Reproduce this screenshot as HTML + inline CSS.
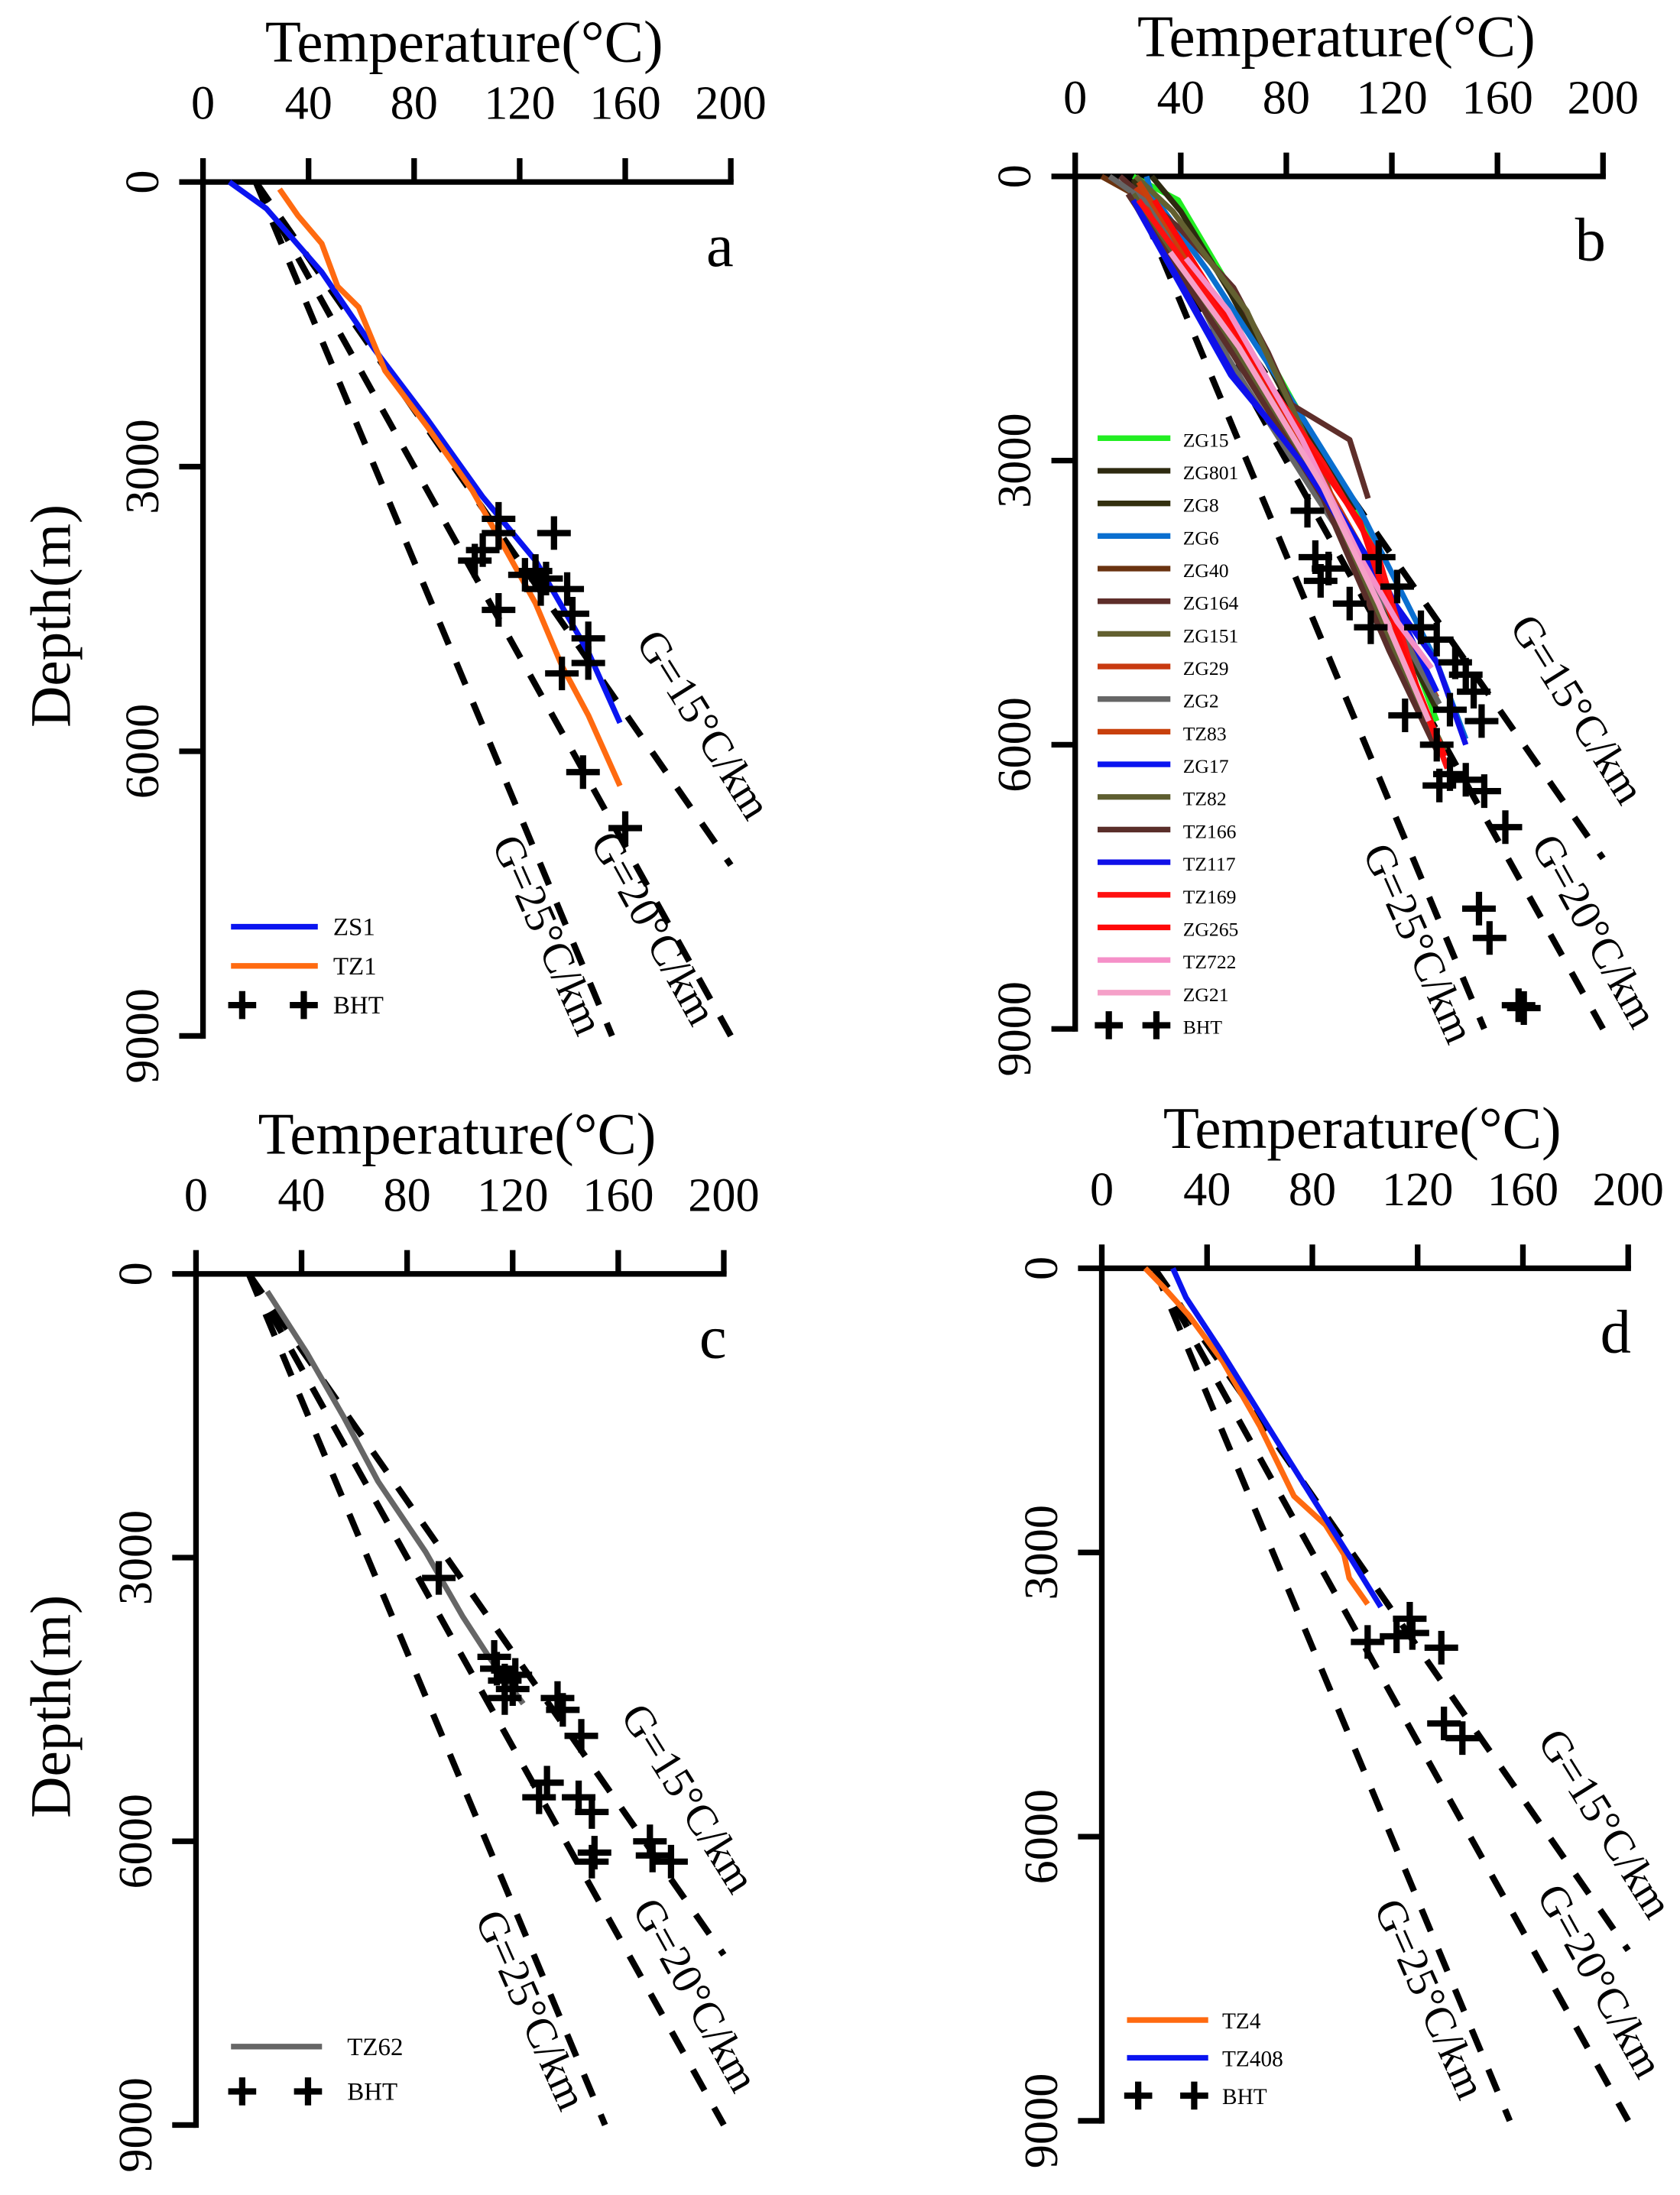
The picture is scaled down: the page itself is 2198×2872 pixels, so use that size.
<!DOCTYPE html>
<html><head><meta charset="utf-8"><style>
html,body{margin:0;padding:0;background:#fff;}
svg{display:block;font-family:"Liberation Serif",serif;}
</style></head><body>
<svg id="fig" width="2198" height="2872" viewBox="0 0 1200 1568" preserveAspectRatio="none" xmlns="http://www.w3.org/2000/svg"></svg>
<script>
// ---------- data ----------
const tempTicks = [0, 40, 80, 120, 160, 200];
const depthTicks = [0, 3000, 6000, 9000];
const gradients = [15, 20, 25];
const gradLabels = ["G=15°C/km", "G=20°C/km", "G=25°C/km"];
const surfaceT = 20;

// panel a
const aZS1 = [[10,0],[24,280],[45,950],[65,1765],[85,2500],[106,3320],[126,3990],[146,4955],[158,5700]];
const aTZ1 = [[29,75],[36,355],[45,650],[51,1100],[59,1320],[69,1990],[85,2580],[102,3250],[114,3840],[126,4440],[136,5100],[146,5620],[158,6365]];
const aBHT = [[112,3550],[112,3700],[133,3700],[103,3990],[106,3880],[122,4140],[126,4100],[130,4180],[128,4290],[138,4290],[140,4550],[112,4510],[146,4810],[146,5070],[136,5180],[144,6220],[160,6810]];
// panel b
const bNames = ["ZG15","ZG801","ZG8","ZG6","ZG40","ZG164","ZG151","ZG29","ZG2","TZ83","ZG17","TZ82","TZ166","TZ117","TZ169","ZG265","TZ722","ZG21"];
const bColors = ["#22ee22","#2e2a10","#33300f","#0a6fd0","#6a3310","#5e2e2a","#636030","#c83a10","#666666","#c8400c","#0a14f0","#5e5e30","#5a2e2a","#1010e8","#ff1010","#ff0808","#f590c8","#f5a0c8"];
const bCurves = [
 [[22,0],[39,250],[60,1240],[82,2350],[108,3590],[137,5750]],
 [[29,0],[40,370],[59,1240],[79,2290],[106,3525]],
 [[22,30],[36,680],[62,1610],[93,3280],[115,4390],[137,5630]],
 [[27,0],[29,185],[50,990],[79,2230],[108,3525],[137,5130],[148,5940]],
 [[10,0],[22,185],[50,1240],[86,3030],[115,4510],[140,6120]],
 [[17,0],[40,560],[60,1175],[73,1855],[82,2410],[104,2780],[111,3400]],
 [[23,0],[37,370],[65,1420],[94,3150],[115,4640],[140,6060]],
 [[23,120],[50,1175],[79,2470],[108,3900],[130,5130],[137,5500]],
 [[13,0],[29,310],[58,1920],[86,3150],[115,4390],[138,5570]],
 [[24,60],[53,1300],[86,2900],[115,4270],[138,6060]],
 [[23,310],[59,2100],[94,3280],[119,4390],[137,5440]],
 [[22,185],[58,1730],[94,3340],[122,5130],[137,6060]],
 [[20,185],[58,1800],[94,3400],[119,5010],[137,6060]],
 [[22,250],[60,2100],[86,3030],[118,4390],[137,5130],[148,6000]],
 [[24,250],[58,1550],[94,3030],[115,4020],[130,5440],[141,6250]],
 [[30,250],[58,1490],[86,2780],[108,3650],[125,5070],[140,6120]],
 [[42,865],[58,1420],[86,2780],[108,4020],[122,4700],[135,5190]],
 [[36,800],[62,1800],[94,3280],[115,4510],[134,5750]]
];
const bBHT = [[88,3530],[91,4020],[96,4140],[93,4270],[104,4510],[115,4020],[122,4330],[112,4760],[131,4760],[137,4890],[144,5130],[148,5260],[151,5440],[142,5630],[154,5750],[125,5690],[137,6000],[142,6310],[148,6370],[155,6490],[138,6430],[163,6870],[153,7730],[157,8040],[170,8780],[168,8750]];
// panel c
const cTZ62 = [[27,185],[42,835],[56,1515],[69,2195],[87,2940],[101,3620],[111,4050],[124,4545]];
const cBHT = [[92,3215],[113,4050],[114,4175],[117,4300],[120,4390],[121,4240],[117,4485],[137,4485],[139,4610],[146,4885],[133,5380],[130,5535],[145,5535],[150,5690],[151,6120],[150,6215],[172,6000],[173,6150],[180,6215]];
// panel d
const dTZ4 = [[16.5,0],[23,185],[33,495],[46,985],[60,1665],[73,2405],[85,2710],[92,3020],[94,3270],[101,3545]];
const dTZ408 = [[27,0],[32,310],[45,860],[63,1665],[81,2465],[95,3080],[106,3575]];
const dBHT = [[101,3945],[112,3885],[117,3700],[118,3850],[129,4005],[130,4805],[137,4960]];

// ---------- drawing ----------
const NS = "http://www.w3.org/2000/svg";
const svg = document.getElementById("fig");
function mk(tag, attrs, parent) {
  const e = document.createElementNS(NS, tag);
  for (const k in attrs) e.setAttribute(k, attrs[k]);
  (parent || svg).appendChild(e);
  return e;
}
function txt(s, attrs, parent) { const t = mk("text", attrs, parent); t.textContent = s; return t; }

function panel(cfg) {
  const g = mk("g", {});
  
  
  const X = t => cfg.x0 + (t / 200) * (cfg.x1 - cfg.x0);
  const Y = d => cfg.y0 + (d / 9000) * (cfg.y1 - cfg.y0);
  const xa = mk("line", {x1: X(0) - 2, y1: cfg.y0, x2: X(200) + 2, y2: cfg.y0, stroke: "#000", "stroke-width": 4}, g);
  
  
  const ya = mk("line", {x1: X(0), y1: cfg.y0 - 2, x2: X(0), y2: cfg.y1 + 2, stroke: "#000", "stroke-width": 4}, g);
  
  
  tempTicks.forEach(t => {
    mk("line", {x1: X(t), y1: cfg.y0, x2: X(t), y2: cfg.y0 - 17, stroke: "#000", "stroke-width": 4}, g);
    const l = txt(String(t), {x: X(t), y: cfg.y0 - 45, "font-size": 34, "text-anchor": "middle"}, g);
    
    
  });
  depthTicks.forEach(d => {
    mk("line", {x1: X(0), y1: Y(d), x2: X(0) - 17, y2: Y(d), stroke: "#000", "stroke-width": 4}, g);
    const l = txt(String(d), {x: 0, y: 0, "font-size": 34, "text-anchor": "middle", transform: `translate(${X(0) - 32},${Y(d)}) rotate(-90)`}, g);
    
    
  });
  const tt = txt("Temperature(°C)", {x: (X(0) + X(200)) / 2 - 2, y: cfg.y0 - 86, "font-size": 42, "text-anchor": "middle"}, g);
  
  
  if (cfg.ytitle) {
    const yt = txt("Depth(m)", {x: 0, y: 0, "font-size": 41, "text-anchor": "middle", transform: `translate(50,${(cfg.y0 + cfg.y1) / 2 + 5}) rotate(-90)`}, g);
    
    
  }
  const lt = txt(cfg.letter, {x: X(200) + 2, y: cfg.y0 + 60, "font-size": 44, "text-anchor": "end"}, g);
  
  
  gradients.forEach((G, i) => {
    let dEnd = 9000, tEnd = surfaceT + G * 9;
    if (tEnd > 200) { tEnd = 200; dEnd = (200 - surfaceT) / G * 1000; }
    const ln = mk("line", {x1: X(surfaceT), y1: Y(0), x2: X(tEnd), y2: Y(dEnd), stroke: "#000", "stroke-width": 4.5, "stroke-dasharray": "17 14"}, g);
    
    
    const p = cfg.labels[i];
    const lab = txt(gradLabels[i], {x: 0, y: 0, "font-size": 31, "text-anchor": "middle", transform: `translate(${p[0]},${p[1]}) rotate(${p[2]})`}, g);
    
    
  });
  cfg.series.forEach(s => {
    const pl = mk("polyline", {points: s.data.map(p => X(p[0]) + "," + Y(p[1])).join(" "), fill: "none", stroke: s.color, "stroke-width": 4, "stroke-linejoin": "round"}, g);
    
    
  });
  cfg.bht.forEach(p => {
    const m = mk("path", {d: `M${X(p[0]) - 12},${Y(p[1])}h24M${X(p[0])},${Y(p[1]) - 12}v24`, stroke: "#000", "stroke-width": 4.5}, g);
    
    
  });
  const L = cfg.legend;
  cfg.series.forEach((s, i) => {
    const y = L.y + i * L.dy;
    const ll = mk("line", {x1: L.x, y1: y, x2: L.x + L.w, y2: y, stroke: s.color, "stroke-width": 4}, g);
    
    
    const lx = txt(s.name, {x: L.tx, y: y + 6, "font-size": L.fs}, g);
    
    
  });
  const by = L.y + cfg.series.length * L.dy;
  [L.x + 8, L.x + L.w - 10].forEach(px => {
    const m = mk("path", {d: `M${px - 10},${by}h20M${px},${by - 10}v20`, stroke: "#000", "stroke-width": 4.5}, g);
    
    
  });
  const bl = txt("BHT", {x: L.tx, y: by + 6, "font-size": L.fs}, g);
  
  
}

panel({letter: "a", x0: 145, x1: 522, y0: 130, y1: 740, ytitle: true,
  labels: [[494, 523, 58], [458, 668, 61], [382, 672, 66]],
  series: [{name: "ZS1", color: "#0a14f0", data: aZS1}, {name: "TZ1", color: "#ff6a10", data: aTZ1}],
  bht: aBHT, legend: {x: 165, w: 62, tx: 238, y: 662, dy: 28, fs: 18}});

panel({letter: "b", x0: 768, x1: 1145, y0: 126, y1: 735, ytitle: false,
  labels: [[1118, 512, 58], [1130, 670, 61], [1004, 678, 66]],
  series: bNames.map((n, i) => ({name: n, color: bColors[i], data: bCurves[i]})),
  bht: bBHT, legend: {x: 784, w: 52, tx: 845, y: 313, dy: 23.3, fs: 14}});

panel({letter: "c", x0: 140, x1: 517, y0: 910, y1: 1518, ytitle: true,
  labels: [[483, 1290, 58], [488, 1430, 61], [370, 1440, 66]],
  series: [{name: "TZ62", color: "#666666", data: cTZ62}],
  bht: cBHT, legend: {x: 165, w: 65, tx: 248, y: 1462, dy: 32, fs: 18}});

panel({letter: "d", x0: 787, x1: 1163, y0: 906, y1: 1515, ytitle: false,
  labels: [[1138, 1308, 58], [1134, 1420, 61], [1012, 1432, 66]],
  series: [{name: "TZ4", color: "#ff6a10", data: dTZ4}, {name: "TZ408", color: "#0a14f0", data: dTZ408}],
  bht: dBHT, legend: {x: 805, w: 58, tx: 873, y: 1443, dy: 27, fs: 16}});
</script>
</body></html>
